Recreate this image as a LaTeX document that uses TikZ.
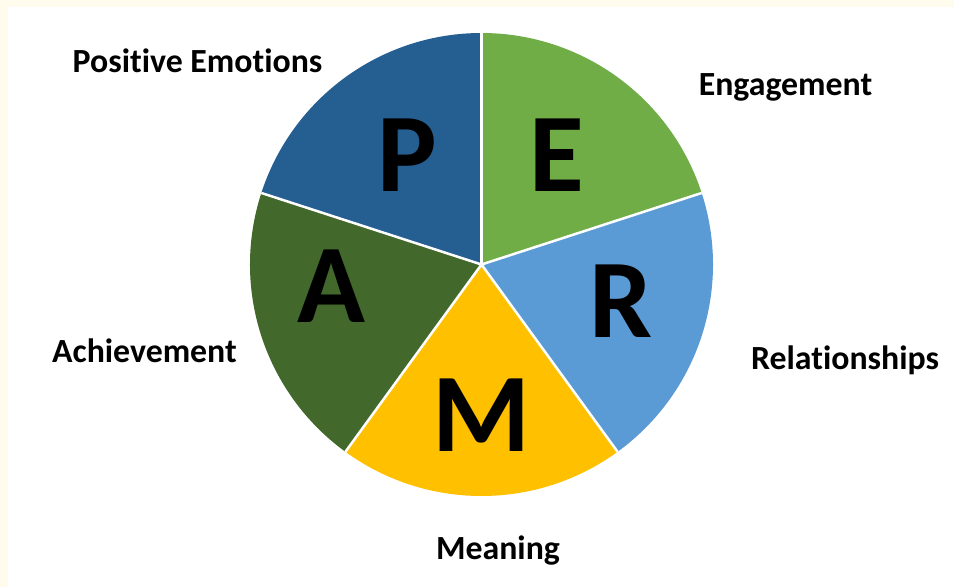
\documentclass[tikz,border=0pt]{standalone}
\usepackage{fontspec}
\setmainfont{Carlito}[Ligatures=NoCommon]
\definecolor{cream}{HTML}{FFFCEE}
\definecolor{pblue}{HTML}{255E91}
\definecolor{egreen}{HTML}{70AD47}
\definecolor{rblue}{HTML}{5B9BD5}
\definecolor{myellow}{HTML}{FFC000}
\definecolor{agreen}{HTML}{43682B}
\begin{document}
\begin{tikzpicture}[x=1pt,y=-1pt,
  lbl/.style={font=\bfseries\fontsize{33.8}{38}\selectfont, anchor=base, inner sep=0pt, text=black},
  big/.style={font=\bfseries\fontsize{112}{120}\selectfont, anchor=center, inner sep=0pt, text=black},
  sep/.style={white, line width=2.5pt}]
\useasboundingbox (0,0) rectangle (954,587);
\fill[cream] (0,0) rectangle (954,587);
\fill[white] (8,7) rectangle (954,587);
\begin{scope}[x=1pt,y=1pt,shift={(481.5pt,-264.5pt)}]
  \def\r{231.5}
  \coordinate (c) at (0,0);
  \fill[egreen]  (c) -- (18:\r)  arc[start angle=18,  end angle=90,  radius=\r] -- cycle;
  \fill[pblue]   (c) -- (90:\r)  arc[start angle=90,  end angle=162, radius=\r] -- cycle;
  \fill[agreen]  (c) -- (162:\r) arc[start angle=162, end angle=234, radius=\r] -- cycle;
  \fill[myellow] (c) -- (234:\r) arc[start angle=234, end angle=306, radius=\r] -- cycle;
  \fill[rblue]   (c) -- (306:\r) arc[start angle=306, end angle=378, radius=\r] -- cycle;
  \foreach \a in {18,90,162,234,306} \draw[sep] (c) -- (\a:\r);
\end{scope}
\node[big] (lp) at (407,155) {P};
\node[big] (le) at (557,155) {E};
\node[big] (lr) at (621,301) {R};
\node[big] (la) at (331,286) {A};
\node[big] (lm) at (481,415) {M};
\node[lbl] (pe) at (197.5,72.5) {Positive Emotions};
\node[lbl] (en) at (785.5,95.5) {Engagement};
\node[lbl] (re) at (845,369) {Relationships};
\node[lbl] (ac) at (144.5,362.5) {Achievement};
\node[lbl] (me) at (498,559) {Meaning};
\end{tikzpicture}
\end{document}
